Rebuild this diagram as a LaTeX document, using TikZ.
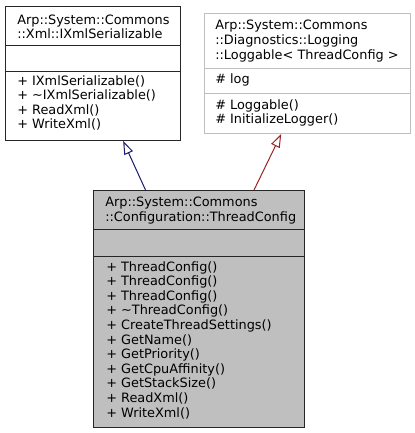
\documentclass[tikz,border=0pt]{standalone}
\usepackage{fontspec}
\setmainfont{DejaVu Sans}
\usetikzlibrary{arrows.meta}
\definecolor{boxgray}{HTML}{BFBFBF}
\definecolor{pubblue}{HTML}{191970}
\definecolor{privred}{HTML}{9B2222}
\tikzset{
  txt/.style={anchor=base west, inner sep=0pt, font=\fontsize{9.65}{11}\selectfont},
  umlbox/.style={draw, line width=0.75pt, inner sep=0pt, anchor=north west},
  inh/.style={line width=0.75pt, -{Triangle[open,length=10pt,width=7pt]}},
}
\begin{document}
\begin{tikzpicture}[x=0.75pt,y=-0.75pt]
\useasboundingbox (0,0) rectangle (415,433);
% boxes
\node[umlbox, draw=black!85, fill=white, minimum width=131.25pt, minimum height=100.5pt] (b1) at (5,6) {};
\node[umlbox, draw=boxgray, fill=white, minimum width=154.5pt, minimum height=90pt] (b2) at (204,13) {};
\node[umlbox, draw=black!85, fill=boxgray, minimum width=158.25pt, minimum height=177.75pt] (b3) at (93,190) {};
% dividers
\draw[line width=0.75pt, black!85] (b1.west |- 0,45) -- (b1.east |- 0,45);
\draw[line width=0.75pt, black!85] (b1.west |- 0,71) -- (b1.east |- 0,71);
\draw[line width=0.75pt, boxgray] (b2.west |- 0,68) -- (b2.east |- 0,68);
\draw[line width=0.75pt, boxgray] (b2.west |- 0,93) -- (b2.east |- 0,93);
\draw[line width=0.75pt, black!85] (b3.west |- 0,229) -- (b3.east |- 0,229);
\draw[line width=0.75pt, black!85] (b3.west |- 0,256) -- (b3.east |- 0,256);
% box 1 text
\node[txt] (t1a) at (17,24) {Arp::System::Commons};
\node[txt] (t1b) at (17,38.5) {::Xml::IXmlSerializable};
\node[txt] (m1a) at (17,85) {+ IXmlSerializable()};
\node[txt] (m1b) at (17,99.6) {+ \textasciitilde IXmlSerializable()};
\node[txt] (m1c) at (17,114.2) {+ ReadXml()};
\node[txt] (m1d) at (17,128.8) {+ WriteXml()};
% box 2 text
\node[txt] (t2a) at (215,29) {Arp::System::Commons};
\node[txt] (t2b) at (215,44) {::Diagnostics::Logging};
\node[txt] (t2c) at (215,59) {::Loggable< ThreadConfig >};
\node[txt] (a2a) at (215,83.5) {\# log};
\node[txt] (m2a) at (215,109) {\# Loggable()};
\node[txt] (m2b) at (215,123.6) {\# InitializeLogger()};
% box 3 text
\node[txt] (t3a) at (105,206) {Arp::System::Commons};
\node[txt] (t3b) at (105,221) {::Configuration::ThreadConfig};
\node[txt] (m3a) at (106,271) {+ ThreadConfig()};
\node[txt] (m3b) at (106,285.6) {+ ThreadConfig()};
\node[txt] (m3c) at (106,300.2) {+ ThreadConfig()};
\node[txt] (m3d) at (106,314.8) {+ \textasciitilde ThreadConfig()};
\node[txt] (m3e) at (106,329.4) {+ CreateThreadSettings()};
\node[txt] (m3f) at (106,344) {+ GetName()};
\node[txt] (m3g) at (106,358.6) {+ GetPriority()};
\node[txt] (m3h) at (106,373.2) {+ GetCpuAffinity()};
\node[txt] (m3i) at (106,387.8) {+ GetStackSize()};
\node[txt] (m3j) at (106,402.4) {+ ReadXml()};
\node[txt] (m3k) at (106,417) {+ WriteXml()};
% inheritance
\draw[inh, pubblue] ([xshift=-40.1pt]b3.north) -- ([xshift=22.6pt]b1.south);
\draw[inh, privred] ([xshift=41.25pt]b3.north) -- ([xshift=-19.7pt]b2.south);
\end{tikzpicture}
\end{document}
